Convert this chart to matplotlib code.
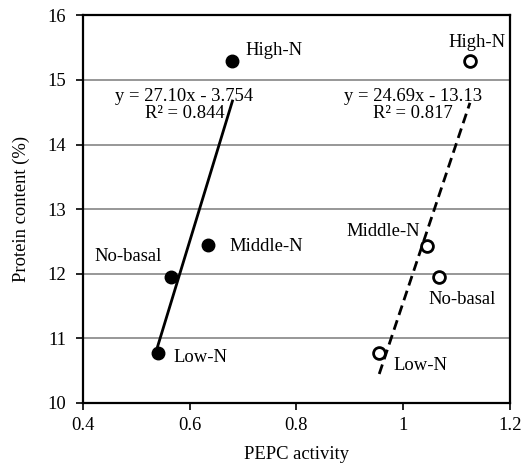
import matplotlib
matplotlib.use("Agg")
import matplotlib.pyplot as plt
import numpy as np

treatments_filled = ["Low-N", "No-basal", "Middle-N", "High-N"]
pepc_filled = [0.54, 0.565, 0.635, 0.68]
protein_filled = [10.78, 11.95, 12.44, 15.30]

treatments_open = ["Low-N", "Middle-N", "No-basal", "High-N"]
pepc_open = [0.955, 1.045, 1.067, 1.125]
protein_open = [10.78, 12.43, 11.95, 15.30]

fit_filled = (27.10, -3.754)
fit_open = (24.69, -13.13)
eq_filled = "y = 27.10x - 3.754\nR² = 0.844"
eq_open = "y = 24.69x - 13.13\nR² = 0.817"

plt.rcParams['font.family'] = ['Liberation Serif', 'DejaVu Serif']
fs = 13.4

fig = plt.figure(figsize=(5.27, 4.66), dpi=100)
ax = fig.add_axes([0.1575, 0.1352, 0.8102, 0.8318])

ax.set_xlim(0.4, 1.2)
ax.set_ylim(10, 16)
ax.set_xticks([0.4, 0.6, 0.8, 1.0, 1.2])
ax.set_xticklabels(["0.4", "0.6", "0.8", "1", "1.2"])
ax.set_yticks([10, 11, 12, 13, 14, 15, 16])
ax.tick_params(axis='both', direction='out', length=5, width=1.2, labelsize=fs)
ax.tick_params(axis='x', pad=5)
ax.tick_params(axis='y', pad=7)
for y in [11, 12, 13, 14, 15]:
    ax.axhline(y, color='#8f8f8f', lw=1.3, zorder=0)
for s in ax.spines.values():
    s.set_linewidth(1.6)
    s.set_color('black')

# regression lines
xf = np.array([min(pepc_filled), max(pepc_filled)])
ax.plot(xf, fit_filled[0] * xf + fit_filled[1], color='black', lw=2.0, zorder=2)
xo = np.array([min(pepc_open), max(pepc_open)])
ax.plot(xo, fit_open[0] * xo + fit_open[1], color='black', lw=2.0, ls=(0, (3.6, 2.0)), zorder=2)

ax.plot(pepc_filled, protein_filled, 'o', color='black', ms=9, zorder=3)
ax.plot(pepc_open, protein_open, 'o', mfc='white', mec='black', mew=2.0, ms=8.5, zorder=3)

# point labels
lab_f = {"High-N": (0.705, 15.46, 'left'), "Middle-N": (0.675, 12.43, 'left'),
         "No-basal": (0.547, 12.27, 'right'), "Low-N": (0.569, 10.70, 'left')}
lab_o = {"High-N": (1.139, 15.58, 'center'), "Middle-N": (1.032, 12.66, 'right'),
         "No-basal": (1.047, 11.60, 'left'), "Low-N": (0.981, 10.58, 'left')}
for t, (x, y, ha) in lab_f.items():
    ax.text(x, y, t, fontsize=fs, ha=ha, va='center')
for t, (x, y, ha) in lab_o.items():
    ax.text(x, y, t, fontsize=fs, ha=ha, va='center')

ax.text(0.59, 14.62, eq_filled, fontsize=fs, ha='center', va='center', multialignment='center', linespacing=1.0)
ax.text(1.018, 14.62, eq_open, fontsize=fs, ha='center', va='center', multialignment='center', linespacing=1.0)

ax.set_xlabel("PEPC activity", fontsize=fs, labelpad=9)
ax.set_ylabel("Protein content (%)", fontsize=fs, labelpad=13)

fig.savefig("out.png", dpi=100)
